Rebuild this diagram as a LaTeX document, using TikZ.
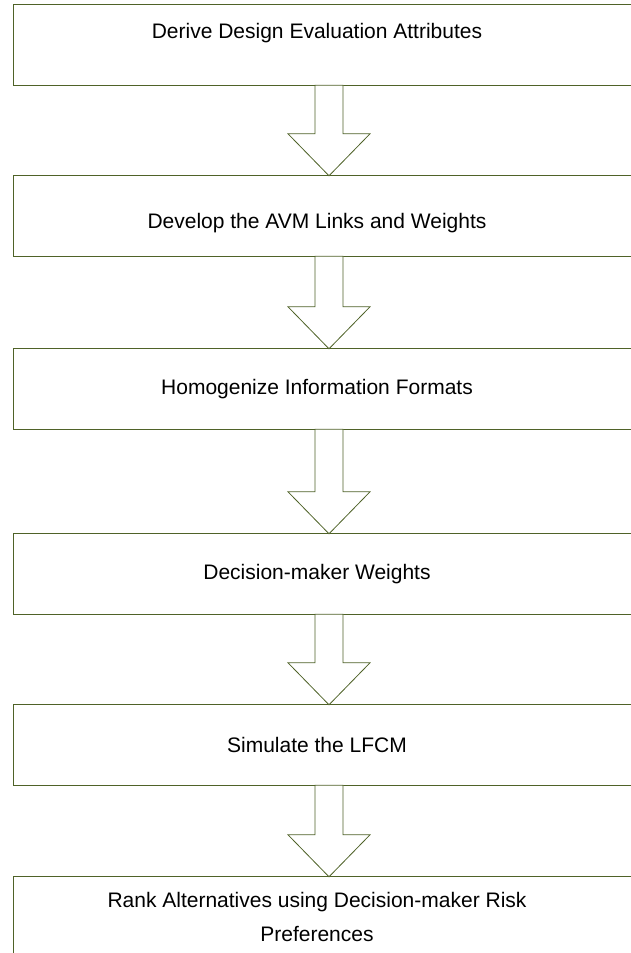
\documentclass[tikz,border=0pt]{standalone}
\usepackage{fontspec}
\setmainfont{Liberation Sans}
\usetikzlibrary{calc}

\definecolor{boxline}{RGB}{79,98,40}

\tikzset{
  stepbox/.style={minimum width=606pt, minimum height=80pt, inner sep=0pt,
    align=center, font=\fontsize{21}{34}\selectfont},
  boxedge/.style={draw=boxline, line width=1.2pt},
  blockarrow/.style={draw=boxline, fill=white, line width=0.8pt, line join=miter}
}

% hollow block arrow from the bottom of #1 to the top of #2
\newcommand{\stepArrow}[2]{
  \draw[blockarrow] ($(#1.south)+(-2,0)$) -- ($(#2.north)+(-2,-42)$)
    -- ($(#2.north)+(-29,-42)$) -- ($(#2.north)+(12,0)$)
    -- ($(#2.north)+(53,-42)$) -- ($(#2.north)+(26,-42)$)
    -- ($(#1.south)+(26,0)$) -- cycle;
}

\begin{document}
\begin{tikzpicture}[x=1pt,y=-1pt]
  \useasboundingbox (0,0) rectangle (631,953);
  \clip (0,0) rectangle (631,953);

  \node[stepbox, text height=33pt, text depth=47pt] (derive) at (317,45) {Derive Design Evaluation Attributes};
  \node[stepbox, text height=52pt, text depth=28pt] (develop) at (317,216) {Develop the AVM Links and Weights};
  \node[stepbox] (homogenize) at (317,389) {Homogenize Information Formats};
  \node[stepbox] (weights) at (317,574) {Decision-maker Weights};
  \node[stepbox] (simulate) at (317,745) {Simulate the LFCM};
  \node[stepbox] (rank) at (317,917) {Rank Alternatives using Decision-maker Risk\\Preferences};

  % boxes run past the right edge of the page
  \foreach \n in {derive,develop,homogenize,weights,simulate,rank}
    \draw[boxedge] (\n.north west) rectangle ([xshift=40pt]\n.south east);

  \stepArrow{derive}{develop}
  \stepArrow{develop}{homogenize}
  \stepArrow{homogenize}{weights}
  \stepArrow{weights}{simulate}
  \stepArrow{simulate}{rank}
\end{tikzpicture}
\end{document}
